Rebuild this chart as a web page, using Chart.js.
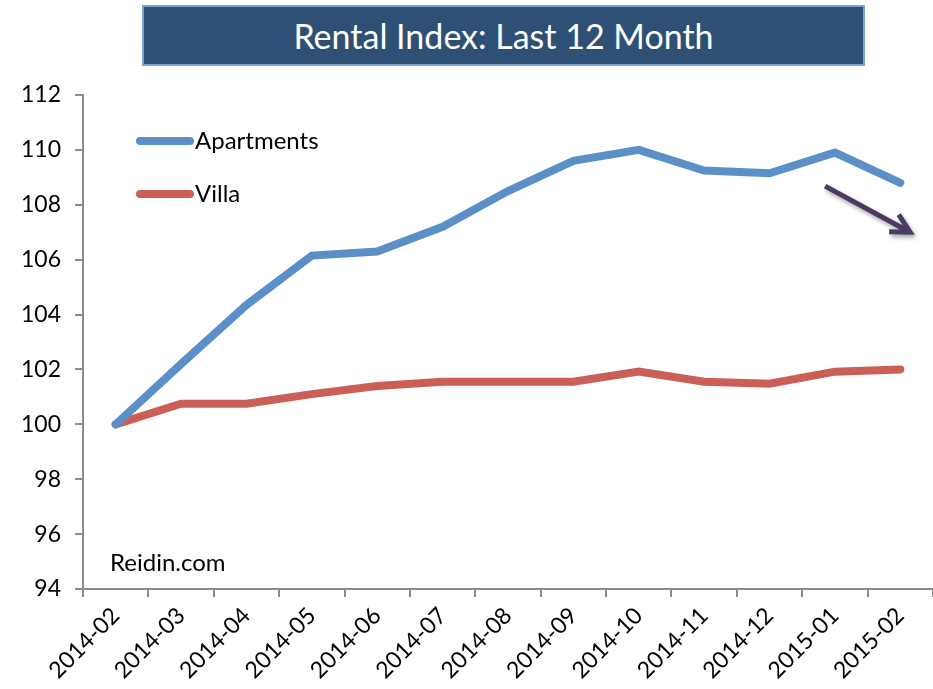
<!DOCTYPE html>
<html>
<head>
<meta charset="utf-8">
<script src="https://cdn.jsdelivr.net/npm/chart.js@4.4.1/dist/chart.umd.min.js"></script>
<style>
  html, body { margin: 0; padding: 0; background: #fff; overflow: hidden; }
  #wrap { position: relative; width: 933px; height: 689px; }
  #title {
    position: absolute; left: 142px; top: 5px; width: 719px; height: 57px;
    background: #2E5074; border: 2px solid #7DA5D3;
    color: #fff; font: 34px Lato, sans-serif; text-align: center; line-height: 57px;
  }
</style>
</head>
<body>
<div id="wrap">
  <canvas id="chart" width="933" height="689"></canvas>
  <div id="title">Rental Index: Last 12 Month</div>
</div>
<script>
// ===== DATA =====
const months = ['2014-02', '2014-03', '2014-04', '2014-05', '2014-06', '2014-07', '2014-08',
  '2014-09', '2014-10', '2014-11', '2014-12', '2015-01', '2015-02'];
const apartments = [100, 102.2, 104.35, 106.15, 106.3, 107.2, 108.5, 109.6, 110.0, 109.25, 109.15, 109.9, 108.8];
const villa = [100, 100.75, 100.75, 101.1, 101.4, 101.55, 101.55, 101.55, 101.92, 101.55, 101.48, 101.92, 102.0];
const yTicks = [94, 96, 98, 100, 102, 104, 106, 108, 110, 112];
// trend arrow, in category index / index value units
const arrowFrom = [10.85, 108.68];
const arrowTo = [12.15, 107.0];

const FONT = 'Lato, sans-serif';
const AXIS = '#8C8C8C';

// legend drawn inside the plot, top-left
const innerLegend = {
  id: 'innerLegend',
  afterDatasetsDraw(chart) {
    const { ctx, chartArea: { left, top, bottom } } = chart;
    ctx.save();
    chart.data.datasets.forEach((ds, i) => {
      const y = top + 46 + i * 53;
      ctx.strokeStyle = ds.borderColor;
      ctx.lineWidth = 8;
      ctx.lineCap = 'round';
      ctx.beginPath();
      ctx.moveTo(left + 57, y);
      ctx.lineTo(left + 107, y);
      ctx.stroke();
      ctx.fillStyle = '#000';
      ctx.font = `24px ${FONT}`;
      ctx.textBaseline = 'middle';
      ctx.fillText(ds.label, left + 112, y);
    });
    ctx.font = `24px ${FONT}`;
    ctx.fillText('Reidin.com', left + 27, bottom - 26);
    ctx.restore();
  },
};

// downward trend arrow
const trendArrow = {
  id: 'trendArrow',
  afterDatasetsDraw(chart) {
    const { ctx, scales: { x, y } } = chart;
    const x1 = x.getPixelForValue(arrowFrom[0]);
    const y1 = y.getPixelForValue(arrowFrom[1]);
    const x2 = x.getPixelForValue(arrowTo[0]);
    const y2 = y.getPixelForValue(arrowTo[1]);
    const ang = Math.atan2(y2 - y1, x2 - x1);
    const wing = 21;
    ctx.save();
    ctx.shadowColor = 'rgba(0,0,0,0.35)';
    ctx.shadowBlur = 4;
    ctx.shadowOffsetX = 2;
    ctx.shadowOffsetY = 3;
    ctx.strokeStyle = '#4B3A66';
    ctx.lineWidth = 5;
    ctx.lineCap = 'butt';
    ctx.beginPath();
    ctx.moveTo(x1, y1);
    ctx.lineTo(x2, y2);
    ctx.moveTo(x2 + wing * Math.cos(ang + Math.PI - 0.47), y2 + wing * Math.sin(ang + Math.PI - 0.47));
    ctx.lineTo(x2, y2);
    ctx.lineTo(x2 + wing * Math.cos(ang + Math.PI + 0.5), y2 + wing * Math.sin(ang + Math.PI + 0.5));
    ctx.stroke();
    ctx.restore();
  },
};

new Chart(document.getElementById('chart').getContext('2d'), {
  type: 'line',
  data: {
    labels: months,
    datasets: [
      {
        label: 'Apartments',
        data: apartments,
        borderColor: '#5B8FC7',
        borderWidth: 8,
        borderCapStyle: 'round',
        borderJoinStyle: 'miter',
        pointRadius: 0,
        tension: 0,
      },
      {
        label: 'Villa',
        data: villa,
        borderColor: '#CB5F57',
        borderWidth: 8,
        borderCapStyle: 'round',
        borderJoinStyle: 'miter',
        pointRadius: 0,
        tension: 0,
      },
    ],
  },
  options: {
    responsive: false,
    animation: false,
    layout: { padding: { top: 95, right: 0, left: 0, bottom: 0 } },
    plugins: { legend: { display: false }, tooltip: { enabled: false } },
    scales: {
      x: {
        type: 'category',
        offset: true,
        grid: { display: true, offset: true, drawOnChartArea: false, drawTicks: true, tickLength: 8, color: AXIS, lineWidth: 2 },
        border: { display: true, color: AXIS, width: 2 },
        ticks: { color: '#000', font: { family: FONT, size: 23 }, maxRotation: 45, minRotation: 45, padding: 5, autoSkip: false },
        afterFit(scale) { scale.height = 100; scale.paddingLeft = 0; scale.paddingRight = 0; },
      },
      y: {
        min: 94,
        max: 112,
        afterBuildTicks(scale) { scale.ticks = yTicks.map(v => ({ value: v })); },
        grid: { display: true, drawOnChartArea: false, drawTicks: true, tickLength: 8, color: AXIS, lineWidth: 2 },
        border: { display: true, color: AXIS, width: 2 },
        ticks: { color: '#000', font: { family: FONT, size: 23 }, padding: 14 },
        afterFit(scale) { scale.width = 83; scale.paddingTop = 0; scale.paddingBottom = 0; },
      },
    },
  },
  plugins: [innerLegend, trendArrow],
});
</script>
</body>
</html>
